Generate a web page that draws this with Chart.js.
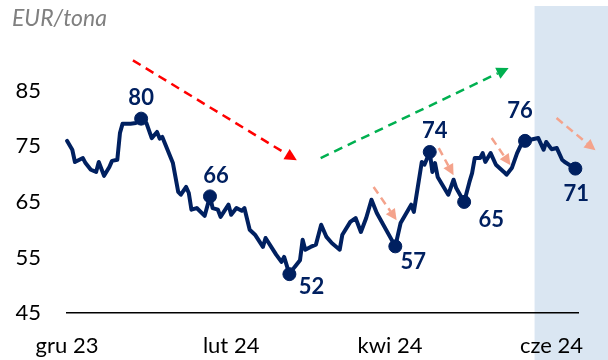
<!DOCTYPE html>
<html>
<head>
<meta charset="utf-8">
<script src="https://cdn.jsdelivr.net/npm/chart.js@4.4.1/dist/chart.umd.min.js"></script>
<style>
  body { margin: 0; background: #fff; }
  #wrap { position: relative; width: 608px; height: 360px; }
</style>
</head>
<body>
<div id="wrap"><canvas id="chart"></canvas></div>
<script>
// days since 1 Dec 2023 and price in EUR/tona
const days = [0, 2, 3, 6, 7, 9, 11, 12, 14, 16, 17, 19, 20, 21, 24, 26, 28, 30, 32, 34, 35, 36, 40, 42, 43, 45, 46, 47, 49, 52,
  54, 55, 57, 58, 61, 62, 64, 66, 67, 69, 71, 74, 75, 79, 81, 82, 84, 86, 88, 89, 90, 92, 94, 96, 98, 100, 103, 104, 107, 109,
  111, 113, 115, 117, 124, 126, 130, 131, 134, 135, 137, 138, 139, 140, 144, 146, 147, 150, 152, 153, 154, 156, 157, 158, 160,
  162, 165, 166, 168, 170, 172, 173, 175, 178, 180, 181, 183, 185, 187, 188, 192];
const prices = [76.0, 74.4, 72.2, 72.9, 72.0, 70.8, 70.4, 72.2, 69.7, 71.3, 72.4, 72.6, 77.4, 79.1, 79.1, 79.2, 80, 79.2, 76.5, 77.6,
  76.4, 76.7, 72.0, 66.8, 66.3, 67.7, 66.6, 63.6, 63.9, 62.5, 66, 63.9, 63.6, 62.3, 64.5, 62.7, 63.9, 63.4, 63.9, 60.0,
  59.1, 56.9, 58.5, 55.5, 54.2, 55.1, 52, 53.3, 54.5, 58.2, 56.4, 56.9, 57.3, 60.9, 58.7, 57.6, 56.4, 59.1, 61.4, 62.1,
  59.6, 62.1, 65.4, 63.0, 57, 61.2, 64.5, 63.2, 72.2, 71.7, 74, 70.4, 72.0, 69.5, 66.3, 69.0, 67.5, 65, 68.6, 70.2,
  72.9, 72.9, 73.8, 72.2, 73.8, 71.7, 70.4, 69.9, 71.1, 73.8, 75.8, 76, 76.2, 76.5, 74.4, 75.8, 74.5, 74.7, 72.6, 72.2, 71];

// highlighted turning points
const pointDays = [28, 54, 84, 124, 137, 150, 173, 192];
const pointValues = [80, 66, 52, 57, 74, 65, 76, 71];
const pointLabelOffset = [[0, -21], [6, -20], [22, 13], [18, 16], [5, -21], [27, 18], [-5, -30], [1, 25]];

const tickDays = [0, 62, 122, 183];
const tickLabels = ['gru 23', 'lut 24', 'kwi 24', 'cze 24'];
const yTicks = [45, 55, 65, 75, 85];

// forecast band starts here
const forecastStart = 176.6;

// trend arrows [fromDay, fromValue, toDay, toValue]
const bigArrows = [[24.9, 90.5, 86.8, 72.5], [95.8, 72.9, 166.8, 89.1]];
const bigArrowColors = ['#ff0000', '#00b050'];
const smallArrows = [[115.8, 67.7, 124.5, 61.7], [140.4, 74.7, 146, 69.8], [160.4, 76.5, 167.5, 71.6], [184.9, 80.1, 199.6, 74.3]];

const navy = '#002060';
const fontFamily = 'Lato, "Liberation Sans", sans-serif';

function drawArrow(ctx, x1, y1, x2, y2, color, width, dash, head) {
    const ang = Math.atan2(y2 - y1, x2 - x1);
    const bx = x2 - Math.cos(ang) * head;
    const by = y2 - Math.sin(ang) * head;
    ctx.save();
    ctx.strokeStyle = color;
    ctx.fillStyle = color;
    ctx.lineWidth = width;
    ctx.setLineDash(dash);
    ctx.beginPath();
    ctx.moveTo(x1, y1);
    ctx.lineTo(bx, by);
    ctx.stroke();
    ctx.setLineDash([]);
    ctx.beginPath();
    ctx.moveTo(x2, y2);
    ctx.lineTo(bx + Math.sin(ang) * head * 0.5, by - Math.cos(ang) * head * 0.5);
    ctx.lineTo(bx - Math.sin(ang) * head * 0.5, by + Math.cos(ang) * head * 0.5);
    ctx.closePath();
    ctx.fill();
    ctx.restore();
}

const extras = {
    id: 'extras',
    beforeDraw(chart) {
        const ctx = chart.ctx;
        const x = chart.scales.x.getPixelForValue(forecastStart);
        ctx.save();
        ctx.fillStyle = '#dae6f2';
        ctx.fillRect(x, 6, chart.width - x, chart.height - 6);
        ctx.restore();
    },
    afterDatasetsDraw(chart) {
        const ctx = chart.ctx;
        const xs = chart.scales.x, ys = chart.scales.y;
        bigArrows.forEach((a, i) => {
            drawArrow(ctx, xs.getPixelForValue(a[0]), ys.getPixelForValue(a[1]),
                xs.getPixelForValue(a[2]), ys.getPixelForValue(a[3]), bigArrowColors[i], 2.5, [9, 6], 12);
        });
        smallArrows.forEach(a => {
            drawArrow(ctx, xs.getPixelForValue(a[0]), ys.getPixelForValue(a[1]),
                xs.getPixelForValue(a[2]), ys.getPixelForValue(a[3]), '#f4a38c', 2.5, [8, 5], 11);
        });
        // point labels
        ctx.save();
        ctx.font = 'bold 22px ' + fontFamily;
        ctx.fillStyle = navy;
        ctx.textAlign = 'center';
        ctx.textBaseline = 'middle';
        pointDays.forEach((d, i) => {
            const px = xs.getPixelForValue(d) + pointLabelOffset[i][0];
            const py = ys.getPixelForValue(pointValues[i]) + pointLabelOffset[i][1];
            ctx.fillText(String(pointValues[i]), px, py);
        });
        // unit label
        ctx.font = 'italic 23px ' + fontFamily;
        ctx.fillStyle = '#808080';
        ctx.textAlign = 'left';
        ctx.fillText('EUR/tona', 12, 19);
        ctx.restore();
    }
};

new Chart(document.getElementById('chart'), {
    type: 'line',
    data: {
        datasets: [{
            data: days.map((d, i) => ({ x: d, y: prices[i] })),
            borderColor: navy,
            borderWidth: 4,
            borderJoinStyle: 'round',
            borderCapStyle: 'round',
            pointRadius: 0,
            tension: 0,
            clip: false
        }, {
            data: pointDays.map((d, i) => ({ x: d, y: pointValues[i] })),
            showLine: false,
            pointRadius: 6.5,
            pointBackgroundColor: navy,
            pointBorderColor: navy,
            clip: false
        }]
    },
    options: {
        responsive: true,
        maintainAspectRatio: false,
        animation: false,
        layout: { padding: { top: 52, right: 30, left: 0, bottom: 0 } },
        plugins: { legend: { display: false }, tooltip: { enabled: false } },
        scales: {
            x: {
                type: 'linear',
                min: 0,
                max: 193,
                afterBuildTicks: s => { s.ticks = tickDays.map(v => ({ value: v })); },
                afterFit: s => { s.height = 47; },
                grid: { display: false, drawTicks: false },
                border: { display: true, color: '#000', width: 1.5 },
                ticks: {
                    autoSkip: false,
                    maxRotation: 0,
                    padding: 20,
                    color: '#000',
                    font: { family: fontFamily, size: 22 },
                    callback: v => tickLabels[tickDays.indexOf(v)]
                }
            },
            y: {
                min: 45,
                max: 92,
                afterBuildTicks: s => { s.ticks = yTicks.map(v => ({ value: v })); },
                afterFit: s => { s.width = 67; },
                grid: { display: false, drawTicks: false },
                border: { display: false },
                ticks: {
                    padding: 26,
                    color: '#000',
                    font: { family: fontFamily, size: 22 }
                }
            }
        }
    },
    plugins: [extras]
});
</script>
</body>
</html>
